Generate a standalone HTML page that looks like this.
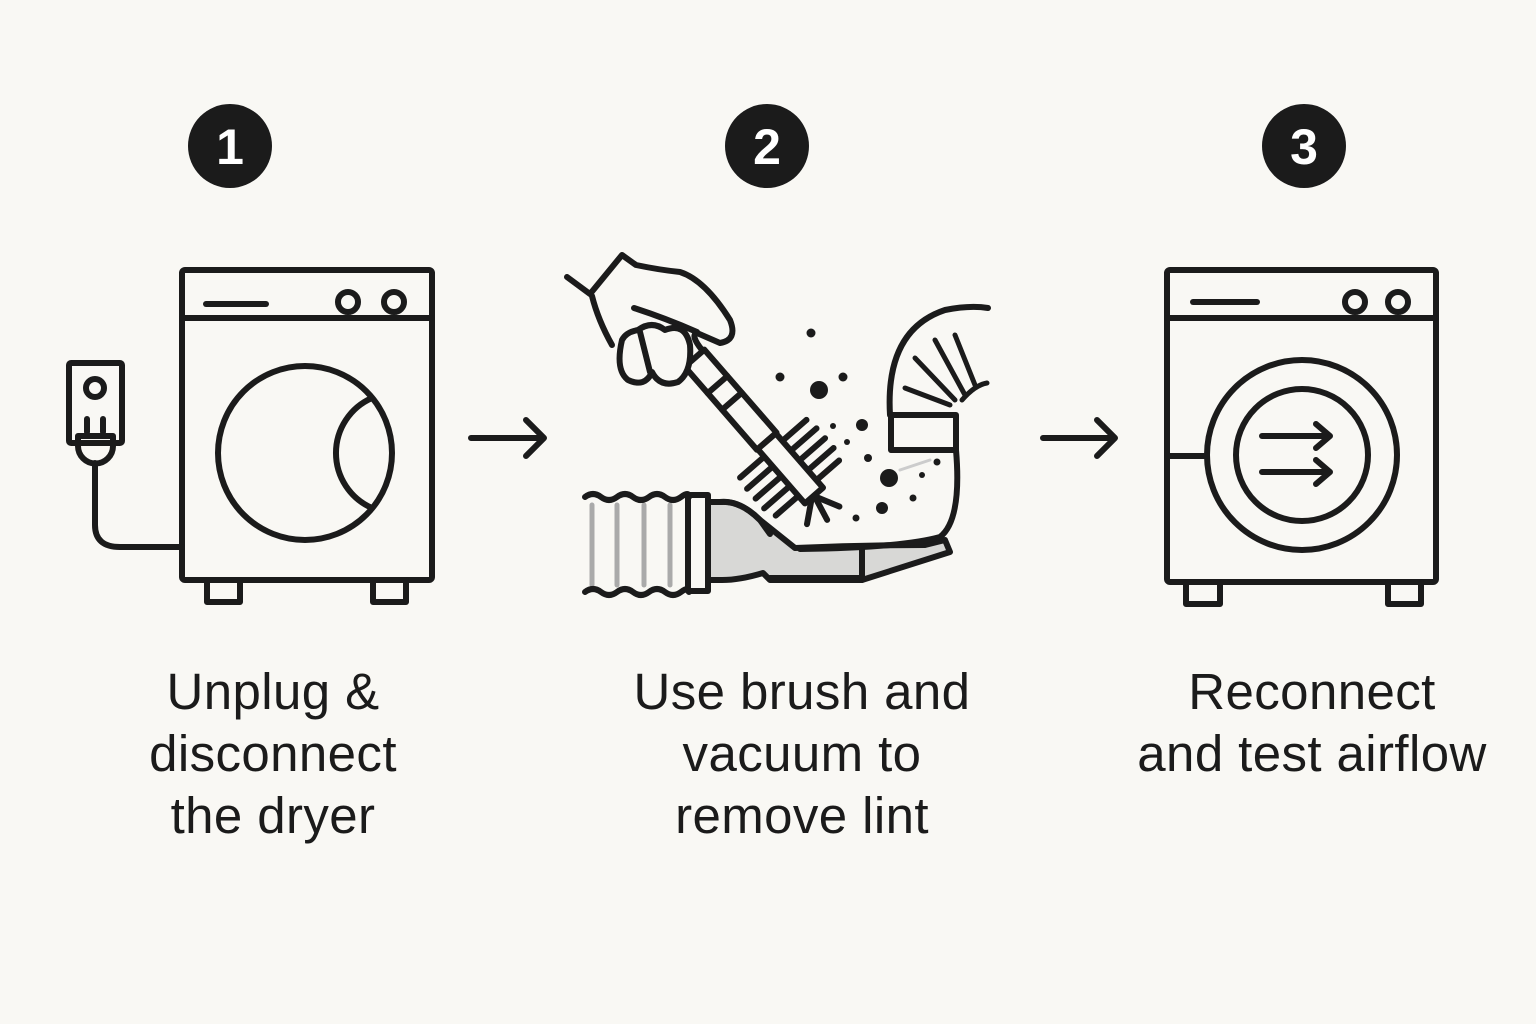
<!DOCTYPE html>
<html><head><meta charset="utf-8"><style>
html,body{margin:0;padding:0;background:#f9f8f4;}
body{width:1536px;height:1024px;overflow:hidden;position:relative;font-family:"Liberation Sans",sans-serif;}
.t{position:absolute;text-align:center;font-size:51px;line-height:62px;color:#1b1b1b;width:520px;letter-spacing:0.4px;}
</style></head><body>
<svg width="1536" height="1024" style="position:absolute;left:0;top:0" fill="none" stroke="#1b1b1b" stroke-width="6" stroke-linecap="round" stroke-linejoin="round">
<g stroke="none" fill="#1b1b1b">
<circle cx="230" cy="146" r="42"/><circle cx="767" cy="146" r="42"/><circle cx="1304" cy="146" r="42"/>
</g>
<g stroke="none" fill="#fff" font-family="Liberation Sans" font-weight="bold" font-size="50" text-anchor="middle">
<text x="230" y="164">1</text><text x="767" y="164">2</text><text x="1304" y="164">3</text>
</g>
<!-- dryer 1 -->
<rect x="182" y="270" width="250" height="310" rx="3"/>
<line x1="182" y1="318" x2="432" y2="318"/>
<line x1="206" y1="304" x2="266" y2="304"/>
<circle cx="348" cy="302" r="10"/><circle cx="394" cy="302" r="10"/>
<circle cx="305" cy="453" r="87"/>
<path d="M372 398 A60 60 0 0 0 372 508"/>
<rect x="207" y="580" width="33" height="22"/><rect x="373" y="580" width="33" height="22"/>
<rect x="69" y="363" width="53" height="80" rx="2"/>
<circle cx="95" cy="388" r="9"/>
<line x1="87" y1="419" x2="87" y2="432"/><line x1="103" y1="419" x2="103" y2="432"/>
<path d="M78 436 H113 V446 A17 17 0 0 1 78 446 Z"/>
<path d="M95 463 V525 Q95 547 120 547 H182"/>
<path d="M471 438 H544 M526 420 L544 438 L526 456"/>
<path d="M1043 438 H1115 M1097 420 L1115 438 L1097 456"/>
<!-- dryer 3 -->
<rect x="1167" y="270" width="269" height="312" rx="3"/>
<line x1="1167" y1="318" x2="1436" y2="318"/>
<line x1="1193" y1="302" x2="1257" y2="302"/>
<circle cx="1355" cy="302" r="10"/><circle cx="1398" cy="302" r="10"/>
<circle cx="1302" cy="455" r="95"/><circle cx="1302" cy="455" r="66"/>
<line x1="1167" y1="456" x2="1207" y2="456"/>
<path d="M1262 436 H1330 M1316 424 L1330 436 L1316 448"/>
<path d="M1262 472 H1330 M1316 460 L1330 472 L1316 484"/>
<rect x="1186" y="582" width="34" height="22"/><rect x="1388" y="582" width="33" height="22"/>
<!-- middle -->
<rect x="588" y="498" width="100" height="92" fill="#f9f8f4" stroke="none"/>
<g stroke="#aaa" stroke-width="5"><line x1="592" y1="505" x2="592" y2="585"/><line x1="617" y1="505" x2="617" y2="585"/><line x1="644" y1="505" x2="644" y2="585"/><line x1="670" y1="505" x2="670" y2="585"/></g>
<path d="M585 497 q8 -6 16 0 t16 0 t16 0 t16 0 t16 0 t16 0 t8 0"/>
<path d="M585 592 q8 -6 16 0 t16 0 t16 0 t16 0 t16 0 t16 0 t8 0"/>
<rect x="688" y="495" width="20" height="96"/>
<path d="M708 502 H720 Q740 500 760 520 L795 548 Q860 545 925 545 L945 540 L950 552 L862 580 H770 L763 573 Q740 580 722 580 H708 Z" fill="#d8d8d6"/>
<path d="M708 502 H720 Q740 500 760 520 L770 534" />
<line x1="770" y1="578" x2="862" y2="578"/><line x1="862" y1="548" x2="862" y2="580"/>
<path d="M890 415 Q885 330 945 310 Q970 305 988 308" fill="#f9f8f4"/>
<rect x="891" y="415" width="65" height="35" fill="#f9f8f4"/>
<path d="M956 450 Q962 520 940 537 Q900 548 800 549"/>
<g stroke-width="5"><line x1="915" y1="358" x2="955" y2="400"/><line x1="935" y1="340" x2="965" y2="395"/><line x1="955" y1="335" x2="975" y2="385"/><line x1="905" y1="388" x2="950" y2="405"/><path d="M962 400 Q975 385 987 383"/></g>
<path d="M900 470 L930 460" stroke="#ccc" stroke-width="3"/>
<g fill="#1b1b1b" stroke="none">
<circle cx="811" cy="333" r="4.5"/><circle cx="780" cy="377" r="4.5"/><circle cx="843" cy="377" r="4.5"/>
<circle cx="819" cy="390" r="9"/><circle cx="862" cy="425" r="6"/><circle cx="833" cy="426" r="3"/><circle cx="847" cy="442" r="3"/>
<circle cx="868" cy="458" r="4"/><circle cx="889" cy="478" r="9"/><circle cx="882" cy="508" r="6"/><circle cx="913" cy="498" r="3.5"/>
<circle cx="937" cy="462" r="3.5"/><circle cx="922" cy="475" r="3"/><circle cx="856" cy="518" r="3.5"/>
</g>
<g transform="translate(770,445) rotate(49)">
<rect x="-115" y="-13" width="110" height="26" fill="#f9f8f4"/>
<line x1="-80" y1="-13" x2="-80" y2="13"/><line x1="-58" y1="-13" x2="-58" y2="13"/>
<rect x="-5" y="-12" width="72" height="24" fill="#f9f8f4"/>
<g stroke-width="6">
<line x1="5" y1="-14" x2="5" y2="-44"/><line x1="18" y1="-14" x2="18" y2="-46"/><line x1="31" y1="-14" x2="31" y2="-46"/><line x1="44" y1="-14" x2="44" y2="-46"/><line x1="57" y1="-14" x2="57" y2="-42"/>
<line x1="5" y1="14" x2="5" y2="44"/><line x1="18" y1="14" x2="18" y2="46"/><line x1="31" y1="14" x2="31" y2="46"/><line x1="44" y1="14" x2="44" y2="46"/><line x1="57" y1="14" x2="57" y2="42"/>
<line x1="68" y1="0" x2="92" y2="-12"/><line x1="68" y1="0" x2="94" y2="6"/><line x1="68" y1="4" x2="84" y2="24"/>
</g>
</g>
<path d="M567 277 L590 294 L622 255 L636 265 Q660 270 680 272 Q705 280 730 320 Q738 340 720 343 L697 333 Q690 335 702 350" fill="#f9f8f4"/>
<path d="M592 296 Q598 320 612 345"/>
<path d="M634 308 Q665 318 697 332"/>
<path d="M622 340 Q615 370 628 380 Q645 388 652 372 Q660 388 678 382 Q692 372 690 345 Q685 322 665 330 Q652 320 638 330 Q626 332 622 340 Z" fill="#f9f8f4"/>
<line x1="640" y1="332" x2="650" y2="372"/>
</svg>
<div class="t" style="left:13px;top:661px">Unplug &amp;<br>disconnect<br>the dryer</div>
<div class="t" style="left:542px;top:661px">Use brush and<br>vacuum to<br>remove lint</div>
<div class="t" style="left:1052px;top:661px">Reconnect<br>and test airflow</div>
</body></html>
